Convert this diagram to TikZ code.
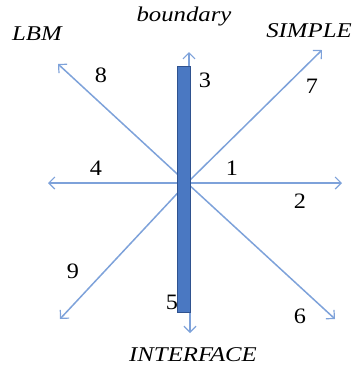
\documentclass[tikz,border=0pt]{standalone}
\usepackage{fontspec}
\setmainfont{Liberation Serif}
\usetikzlibrary{arrows.meta}
\definecolor{ray}{HTML}{7EA2DA}
\definecolor{barfill}{HTML}{4A78C2}
\definecolor{barline}{HTML}{2F528F}
\begin{document}
\begin{tikzpicture}[x=1pt,y=-1pt,
  raystyle/.style={draw=ray,line width=1.5pt,-{Straight Barb[length=6pt,width=12pt,line width=1.2pt]}},
  lbl/.style={font=\fontsize{21}{24}\selectfont\itshape,inner sep=0pt,xscale=1.18},
  num/.style={font=\fontsize{22}{24}\selectfont,inner sep=0pt,xscale=1.1}]
\useasboundingbox (0,0) rectangle (353,373);
\coordinate (c) at (187,183);
\coordinate (e2) at (342,183);
\coordinate (e4) at (48,183);
\coordinate (e3) at (189,52);
\coordinate (e5) at (190,333);
\coordinate (e7) at (322,50);
\coordinate (e8) at (58,64);
\coordinate (e9) at (60,319);
\coordinate (e6) at (335,319);
\foreach \e in {e2,e4,e6,e7,e8,e9}{\draw[raystyle] (c) -- (\e);}
\draw[raystyle] (190,300) -- (e5);
\draw[raystyle] (189,80) -- (e3);
\node[draw=barline,fill=barfill,line width=0.6pt,minimum width=13pt,minimum height=246pt,inner sep=0pt] (bar) at (184,189) {};
\node[lbl] (tb) at (184,16) {boundary};
\node[lbl] (tl) at (37,34) {LBM};
\node[lbl] (ts) at (309,31) {SIMPLE};
\node[lbl] (ti) at (193,355) {INTERFACE};
\node[num] (n8) at (101,75) {8};
\node[num] (n3) at (205,80) {3};
\node[num] (n7) at (312,86) {7};
\node[num] (n4) at (96,168) {4};
\node[num] (n1) at (232,168) {1};
\node[num] (n2) at (300,201) {2};
\node[num] (n9) at (73,271) {9};
\node[num] (n5) at (172,302) {5};
\node[num] (n6) at (300,316) {6};
\end{tikzpicture}
\end{document}
